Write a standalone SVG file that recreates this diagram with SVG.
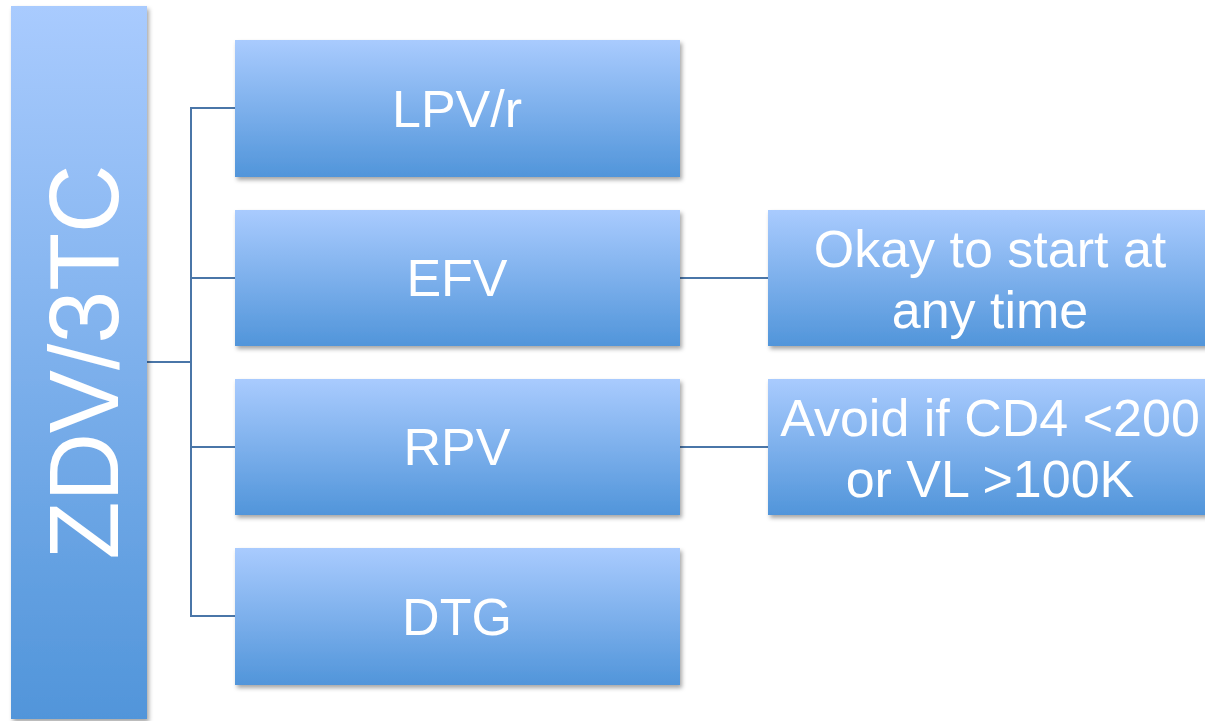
<svg xmlns="http://www.w3.org/2000/svg" width="1205" height="721" viewBox="0 0 1205 721">
<defs>
<linearGradient id="g" x1="0" y1="0" x2="0" y2="1">
<stop offset="0" stop-color="#A9CBFE"/>
<stop offset="1" stop-color="#5195DA"/>
</linearGradient>
<filter id="sh" x="-5%" y="-5%" width="112%" height="115%">
<feDropShadow dx="2" dy="3" stdDeviation="2" flood-color="#000" flood-opacity="0.35"/>
</filter>
<style>
.box{fill:url(#g);filter:url(#sh)}
.t{font-family:"Liberation Sans",Arial,sans-serif;font-size:52px;fill:#fff;text-anchor:middle}
.c{fill:none;stroke:#4A76A8;stroke-width:2}
</style>
</defs>
<rect width="1205" height="721" fill="#fff"/>
<g id="connectors">
<polyline class="c" points="147,362 191,362"/>
<polyline class="c" points="235,108 191,108 191,616 235,616"/>
<line class="c" x1="191" y1="278" x2="235" y2="278"/>
<line class="c" x1="191" y1="447" x2="235" y2="447"/>
<line class="c" x1="680" y1="278" x2="768" y2="278"/>
<line class="c" x1="680" y1="447" x2="768" y2="447"/>
</g>
<g id="root">
<rect class="box" x="11" y="6" width="136" height="713"/>
<text class="t" transform="translate(118,362) rotate(-90)" x="0" y="0" style="font-size:99px" textLength="395" lengthAdjust="spacingAndGlyphs">ZDV/3TC</text>
</g>
<g id="lpvr">
<rect class="box" x="235" y="40" width="445" height="137"/>
<text class="t" x="457" y="127">LPV/r</text>
</g>
<g id="efv">
<rect class="box" x="235" y="210" width="445" height="136"/>
<text class="t" x="457" y="296">EFV</text>
</g>
<g id="rpv">
<rect class="box" x="235" y="379" width="445" height="136"/>
<text class="t" x="457" y="465">RPV</text>
</g>
<g id="dtg">
<rect class="box" x="235" y="548" width="445" height="137"/>
<text class="t" x="457" y="635">DTG</text>
</g>
<g id="efv-note">
<rect class="box" x="768" y="210" width="445" height="136"/>
<text class="t" x="990" y="267">Okay to start at</text>
<text class="t" x="990" y="328">any time</text>
</g>
<g id="rpv-note">
<rect class="box" x="768" y="379" width="445" height="136"/>
<text class="t" x="990" y="436">Avoid if CD4 &lt;200</text>
<text class="t" x="990" y="497">or VL &gt;100K</text>
</g>
</svg>
